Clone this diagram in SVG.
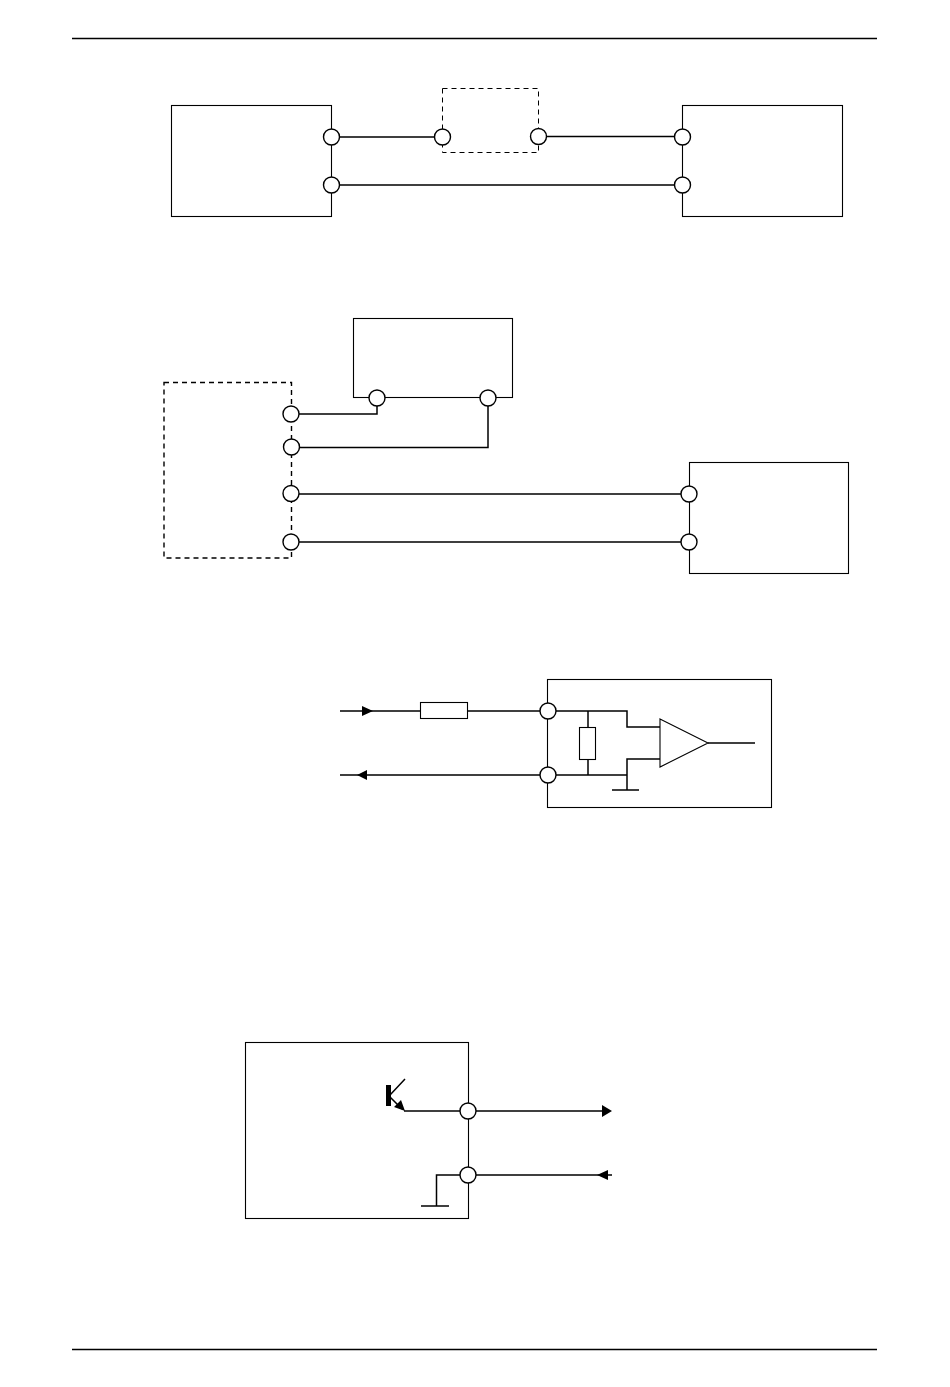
<svg xmlns="http://www.w3.org/2000/svg" width="950" height="1387" viewBox="0 0 950 1387">
<style>
.b{fill:#fff;stroke:#000;stroke-width:1.1}
.d{fill:none;stroke:#000;stroke-width:1;stroke-dasharray:5 4}
.d2{fill:none;stroke:#000;stroke-width:1.4;stroke-dasharray:5 4}
.w{fill:none;stroke:#000;stroke-width:1.5}
.r{fill:none;stroke:#000;stroke-width:1.7}
.c{fill:#fff;stroke:#000;stroke-width:1.4}
.a{fill:#000;stroke:none}
</style>
<rect width="950" height="1387" fill="#fff"/>
<g id="rules"><path class="r" d="M72 38.500H877M72 1349.500H877"/></g>
<g id="node-a1"><rect class="b" x="171.500" y="105.500" width="160" height="111"/><circle class="c" cx="331.500" cy="137" r="8"/><circle class="c" cx="331.500" cy="185" r="8"/></g>
<g id="node-a2"><rect class="d" x="442.500" y="88.500" width="96" height="64"/><circle class="c" cx="442.500" cy="137" r="8"/><circle class="c" cx="538.500" cy="136.500" r="8"/></g>
<g id="node-a3"><rect class="b" x="682.500" y="105.500" width="160" height="111"/><circle class="c" cx="682.500" cy="137" r="8"/><circle class="c" cx="682.500" cy="185" r="8"/></g>
<g id="node-b1"><rect class="b" x="353.500" y="318.500" width="159" height="79"/><circle class="c" cx="377" cy="398" r="8"/><circle class="c" cx="488" cy="398" r="8"/></g>
<g id="node-b2"><rect class="d2" x="164" y="382.500" width="127.500" height="175.500"/><circle class="c" cx="291" cy="414" r="8"/><circle class="c" cx="291.500" cy="447" r="8"/><circle class="c" cx="291" cy="493.500" r="8"/><circle class="c" cx="291" cy="542" r="8"/></g>
<g id="node-b3"><rect class="b" x="689.500" y="462.500" width="159" height="111"/><circle class="c" cx="689" cy="494" r="8"/><circle class="c" cx="689" cy="542" r="8"/></g>
<g id="node-c1"><rect class="b" x="547.500" y="679.500" width="224" height="128"/><circle class="c" cx="548" cy="711" r="8"/><circle class="c" cx="548" cy="775" r="8"/></g>
<g id="node-d1"><rect class="b" x="245.500" y="1042.500" width="223" height="176"/><circle class="c" cx="468" cy="1111" r="8"/><circle class="c" cx="468" cy="1175" r="8"/></g>
<g id="connectors">
<path class="w" d="M339.500 137H434.500M546.500 136.500H674.500M339.500 185H674.500"/>
<path class="w" d="M299 414H377V406M299.500 447.500H488V406M299 494H681M299 542H681"/>
<path class="w" d="M340 711H420.500M467.500 711H540M340 775H540"/>
<path class="w" d="M556 711H627V727H660M588 711V727.500M588 759.500V775M556 775H627M627 790V759H660M612 790H639M708 743H755"/>
<path class="a" d="M362 706L373 711L362 716ZM367 770L357 775L367 780Z"/>
<path class="w" d="M404 1111H460M476 1111H604M476 1175H612M460 1175H436.500V1206M421 1206H449"/>
<path class="w" d="M390 1095L405 1079M390 1097L402 1109"/>
<path class="a" d="M386 1085H391V1106H386ZM405 1111L394 1107L401 1100ZM602 1105L612 1111L602 1117ZM597 1175L608 1170V1180Z"/>
</g>
<g id="node-c2"><rect class="b" x="420.500" y="702.500" width="47" height="16"/><rect class="b" x="579.500" y="727.500" width="16" height="32"/><path class="b" d="M660 719L708 743L660 767Z"/></g>
</svg>
